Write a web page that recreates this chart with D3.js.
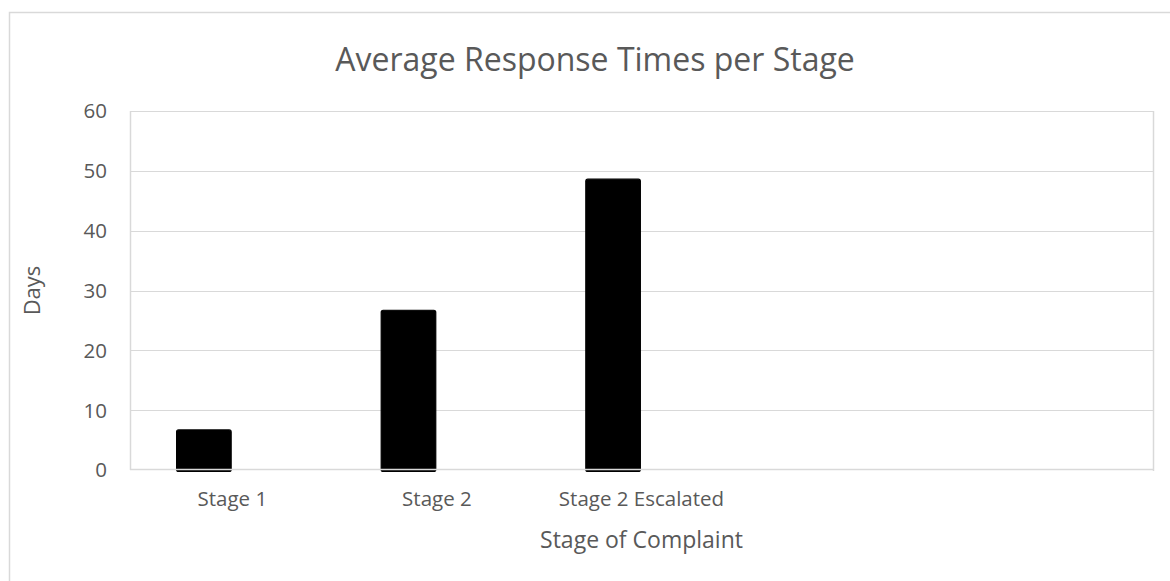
<!DOCTYPE html>
<html>
<head>
<meta charset="utf-8">
<script src="https://cdn.jsdelivr.net/npm/d3@7"></script>
<style>
  html, body { margin: 0; padding: 0; background: #fff; }
  svg { display: block; }
  text { font-family: "Open Sans", "Noto Sans", sans-serif; fill: #595959; }
</style>
</head>
<body>
<svg id="chart" width="1170" height="581"></svg>
<script>
// Chart data
const categories = ["Stage 1", "Stage 2", "Stage 2 Escalated", "", ""];
const averageDays = [6.7, 26.7, 48.6, null, null];
const secondSeries = [null, null, null, null, null];
const seriesNames = ["Average days", "Series 2"];
const yTicks = [0, 10, 20, 30, 40, 50, 60];

const chartTitle = "Average Response Times per Stage";
const xTitle = "Stage of Complaint";
const yTitle = "Days";

const plot = { left: 130, right: 1153, top: 111, bottom: 470 };
const grid = "#d9d9d9";

const svg = d3.select("#chart");

// outer chart frame
svg.append("rect")
  .attr("x", 9.5).attr("y", 12.5)
  .attr("width", 1180).attr("height", 600)
  .attr("fill", "#fff").attr("stroke", grid).attr("stroke-width", 1.5);

const y = d3.scaleLinear().domain([0, 60]).range([plot.bottom, plot.top]);
const x0 = d3.scaleBand().domain(d3.range(categories.length))
  .range([plot.left, plot.right]).padding(0);
const x1 = d3.scaleBand().domain(seriesNames)
  .range([0, x0.bandwidth()]).paddingInner(0.04).paddingOuter(0.82);

// horizontal gridlines
svg.append("g").selectAll("line").data(yTicks.filter(t => t > 0)).join("line")
  .attr("x1", plot.left).attr("x2", plot.right)
  .attr("y1", d => Math.round(y(d)) + 0.5).attr("y2", d => Math.round(y(d)) + 0.5)
  .attr("stroke", grid).attr("stroke-width", 1.2);

// plot area sides
svg.append("line")
  .attr("x1", plot.left + 0.5).attr("x2", plot.left + 0.5)
  .attr("y1", plot.top).attr("y2", plot.bottom)
  .attr("stroke", grid).attr("stroke-width", 1.5);
svg.append("line")
  .attr("x1", plot.right + 0.5).attr("x2", plot.right + 0.5)
  .attr("y1", plot.top).attr("y2", plot.bottom + 1)
  .attr("stroke", grid).attr("stroke-width", 1.5);

// bars
const rows = categories.map((c, i) => ({ i, values: [averageDays[i], secondSeries[i]] }));
const groups = svg.append("g").selectAll("g").data(rows).join("g")
  .attr("transform", d => `translate(${x0(d.i)},0)`);
groups.selectAll("rect")
  .data(d => d.values.map((v, k) => ({ v, s: seriesNames[k] })).filter(e => e.v != null))
  .join("rect")
  .attr("x", d => x1(d.s))
  .attr("width", x1.bandwidth())
  .attr("y", d => y(d.v))
  .attr("height", d => y(0) - y(d.v) + 1.5)
  .attr("rx", 2)
  .attr("fill", "#000")
  .attr("stroke", "#000").attr("stroke-width", 1.2);

// category axis line
svg.append("line")
  .attr("x1", plot.left).attr("x2", plot.right + 1)
  .attr("y1", y(0) - 0.5).attr("y2", y(0) - 0.5)
  .attr("stroke", grid).attr("stroke-width", 1.5);

// y tick labels
svg.append("g").selectAll("text").data(yTicks).join("text")
  .attr("x", 107).attr("y", d => y(d))
  .attr("dy", "0.36em")
  .attr("text-anchor", "end")
  .style("font-size", "20.5px")
  .text(d => d);

// category labels
svg.append("g").selectAll("text").data(rows).join("text")
  .attr("x", d => x0(d.i) + x0.bandwidth() / 2)
  .attr("y", 506)
  .attr("text-anchor", "middle")
  .style("font-size", "20.5px")
  .text(d => categories[d.i]);

// titles
svg.append("text")
  .attr("x", 595).attr("y", 71)
  .attr("text-anchor", "middle")
  .style("font-size", "32px")
  .text(chartTitle);

svg.append("text")
  .attr("x", (plot.left + plot.right) / 2).attr("y", 548)
  .attr("text-anchor", "middle")
  .style("font-size", "23px")
  .text(xTitle);

svg.append("text")
  .attr("transform", `translate(40,${(plot.top + plot.bottom) / 2}) rotate(-90)`)
  .attr("text-anchor", "middle")
  .style("font-size", "22px")
  .text(yTitle);
</script>
</body>
</html>
